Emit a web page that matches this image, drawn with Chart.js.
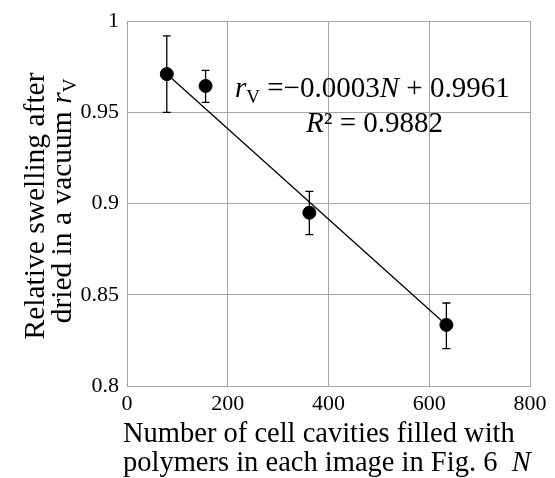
<!DOCTYPE html>
<html>
<head>
<meta charset="utf-8">
<script src="https://cdn.jsdelivr.net/npm/chart.js@4.4.1/dist/chart.umd.min.js"></script>
<style>
  html, body { margin: 0; padding: 0; background: #fff; }
  #wrap { width: 555px; height: 478px; }
</style>
</head>
<body>
<div id="wrap"><canvas id="swell"></canvas></div>
<script>
// measured points
const cavities = [79, 156, 362, 634];
const swelling = [0.971, 0.9645, 0.895, 0.8335];
const errTop = [0.992, 0.973, 0.9067, 0.8455];
const errBottom = [0.950, 0.9555, 0.883, 0.8205];

// fitted line, ends as drawn
const fitN = [79, 634];
const fitR = [0.971, 0.8335];

const xTicks = [0, 200, 400, 600, 800];
const yTicks = [0.8, 0.85, 0.9, 0.95, 1];

const SERIF = '"Liberation Serif", "Times New Roman", serif';
const GRID = '#a6a6a6';

// draw runs of text with mixed styles, returns width
function drawRuns(ctx, runs, x, y, measureOnly) {
    let cx = x;
    runs.forEach(r => {
        ctx.font = r.f;
        if (!measureOnly) ctx.fillText(r.t, cx, y + (r.dy || 0));
        cx += ctx.measureText(r.t).width;
    });
    return cx - x;
}

const errorBars = {
    id: 'errorBars',
    beforeDatasetsDraw(chart) {
        const ctx = chart.ctx;
        const xs = chart.scales.x, ys = chart.scales.y;
        ctx.save();
        ctx.strokeStyle = '#000';
        ctx.lineWidth = 1.3;
        cavities.forEach((n, i) => {
            const px = xs.getPixelForValue(n);
            const t = ys.getPixelForValue(errTop[i]);
            const b = ys.getPixelForValue(errBottom[i]);
            ctx.beginPath();
            ctx.moveTo(px, t); ctx.lineTo(px, b);
            ctx.moveTo(px - 4, t); ctx.lineTo(px + 4, t);
            ctx.moveTo(px - 4, b); ctx.lineTo(px + 4, b);
            ctx.stroke();
        });
        ctx.restore();
    }
};

const labels = {
    id: 'labels',
    afterDraw(chart) {
        const ctx = chart.ctx;
        ctx.save();
        ctx.fillStyle = '#000';
        ctx.textAlign = 'left';
        ctx.textBaseline = 'alphabetic';

        // equation
        const big = '29px ' + SERIF, bigI = 'italic 29px ' + SERIF, sub = '19px ' + SERIF;
        drawRuns(ctx, [
            {t: 'r', f: bigI}, {t: 'V', f: sub, dy: 6}, {t: ' =−0.0003', f: big},
            {t: 'N', f: bigI}, {t: ' + 0.9961', f: big}
        ], 235, 97);
        drawRuns(ctx, [{t: 'R', f: bigI}, {t: '² = 0.9882', f: big}], 306, 132);

        // x axis title
        const t = '28.5px ' + SERIF, tI = 'italic 28.5px ' + SERIF;
        drawRuns(ctx, [{t: 'Number of cell cavities filled with', f: t}], 123, 442);
        drawRuns(ctx, [{t: 'polymers in each image in Fig. 6  ', f: t}, {t: 'N', f: tI}], 123, 471);

        // y axis title
        const u = '29.5px ' + SERIF, uI = 'italic 29.5px ' + SERIF, uS = '19px ' + SERIF;
        const l1 = [{t: 'Relative swelling after', f: u}];
        const l2 = [{t: 'dried in a vacuum ', f: u}, {t: 'r', f: uI}, {t: 'V', f: uS, dy: 5}];
        ctx.rotate(-Math.PI / 2);
        let w = drawRuns(ctx, l1, 0, 0, true);
        drawRuns(ctx, l1, -206 - w / 2, 44);
        w = drawRuns(ctx, l2, 0, 0, true);
        drawRuns(ctx, l2, -201 - w / 2, 71);
        ctx.restore();
    }
};

new Chart(document.getElementById('swell'), {
    type: 'scatter',
    data: {
        datasets: [{
            label: 'fit',
            data: fitN.map((n, i) => ({x: n, y: fitR[i]})),
            showLine: true,
            borderColor: '#000',
            borderWidth: 1.3,
            pointRadius: 0,
            order: 2
        }, {
            label: 'rV',
            data: cavities.map((n, i) => ({x: n, y: swelling[i]})),
            backgroundColor: '#000',
            borderColor: '#000',
            pointRadius: 6.5,
            pointHoverRadius: 6.5,
            order: 1
        }]
    },
    options: {
        responsive: true,
        maintainAspectRatio: false,
        animation: false,
        events: [],
        layout: { padding: { left: 0, right: 25, top: 15, bottom: 0 } },
        plugins: { legend: { display: false }, tooltip: { enabled: false } },
        scales: {
            x: {
                type: 'linear', min: 0, max: 800,
                afterBuildTicks: s => { s.ticks = xTicks.map(v => ({value: v})); },
                afterFit: s => { s.height = 92; },
                grid: { color: GRID, lineWidth: 1, drawTicks: false },
                border: { color: GRID },
                ticks: { color: '#000', padding: 5, maxRotation: 0, font: { family: SERIF, size: 22 },
                         callback: v => String(v) }
            },
            y: {
                type: 'linear', min: 0.8, max: 1,
                afterBuildTicks: s => { s.ticks = yTicks.map(v => ({value: v})); },
                afterFit: s => { s.width = 127; },
                grid: { color: GRID, lineWidth: 1, drawTicks: false },
                border: { color: GRID },
                ticks: { color: '#000', padding: 8, font: { family: SERIF, size: 22 },
                         callback: v => String(v) }
            }
        }
    },
    plugins: [errorBars, labels]
});
</script>
</body>
</html>
